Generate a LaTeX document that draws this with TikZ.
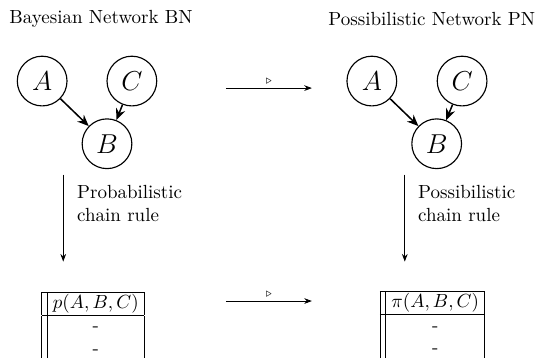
\documentclass[tikz,border=0pt]{standalone}
\usepackage{amsmath,amssymb}
\usetikzlibrary{positioning,arrows.meta}
\setlength{\tabcolsep}{3pt}
\setlength{\doublerulesep}{3pt}
\tikzset{
  var/.style={circle,draw,semithick,minimum size=0.92cm,inner sep=0pt,font=\Large},
  dep/.style={line width=0.8pt,-{Stealth[length=6pt,width=5pt]}},
  trans/.style={-{Stealth[length=4pt]}},
  rlab/.style={align=left,anchor=west,inner sep=0pt},
  tri/.style={font=\tiny,above,inner sep=2pt},
  jtab/.style={anchor=north,inner sep=0pt}
}

\begin{document}
\begin{tikzpicture}
  \clip (0,0) rectangle (10.01,6.62);
  % Bayesian network
  \node (bnT) at (1.87,6.27) {Bayesian Network BN};
  \node[var] (bnA) at (0.78,5.12) {$A$}; \node[var] (bnC) at (2.44,5.12) {$C$}; \node[var] (bnB) at (1.98,3.96) {$B$};
  \draw[dep] (bnA) -- (bnB); \draw[dep] (bnC) -- (bnB);
  \coordinate (bnS) at (1.17,3.39); \coordinate (bnE) at (1.17,1.78); \draw[trans] (bnS) -- (bnE);
  \node[rlab] (bnL) at (1.42,2.85) {Probabilistic\\chain rule};
  \node[jtab] (bnJ) at (1.72,1.23) {\begin{tabular}{||c|}\hline $p(A,B,C)$\\\hline -\\ -\\\end{tabular}};
  % possibilistic network
  \node (pnT) at (7.99,6.27) {Possibilistic Network PN};
  \node[var] (pnA) at (6.88,5.12) {$A$}; \node[var] (pnC) at (8.55,5.12) {$C$}; \node[var] (pnB) at (8.08,3.96) {$B$};
  \draw[dep] (pnA) -- (pnB); \draw[dep] (pnC) -- (pnB);
  \coordinate (pnS) at (7.49,3.39); \coordinate (pnE) at (7.49,1.78); \draw[trans] (pnS) -- (pnE);
  \node[rlab] (pnL) at (7.73,2.85) {Possibilistic\\chain rule};
  \node[jtab] (pnJ) at (8.00,1.245) {\begin{tabular}{||c|}\hline $\pi(A,B,C)$\\\hline -\\ -\\\end{tabular}};
  % transformations
  \coordinate (tnS) at (4.18,4.99); \coordinate (tnE) at (5.77,4.99); \draw[trans] (tnS) -- node[tri] {$\triangleright$} (tnE);
  \coordinate (tjS) at (4.18,1.05); \coordinate (tjE) at (5.77,1.05); \draw[trans] (tjS) -- node[tri] {$\triangleright$} (tjE);
\end{tikzpicture}
\end{document}
